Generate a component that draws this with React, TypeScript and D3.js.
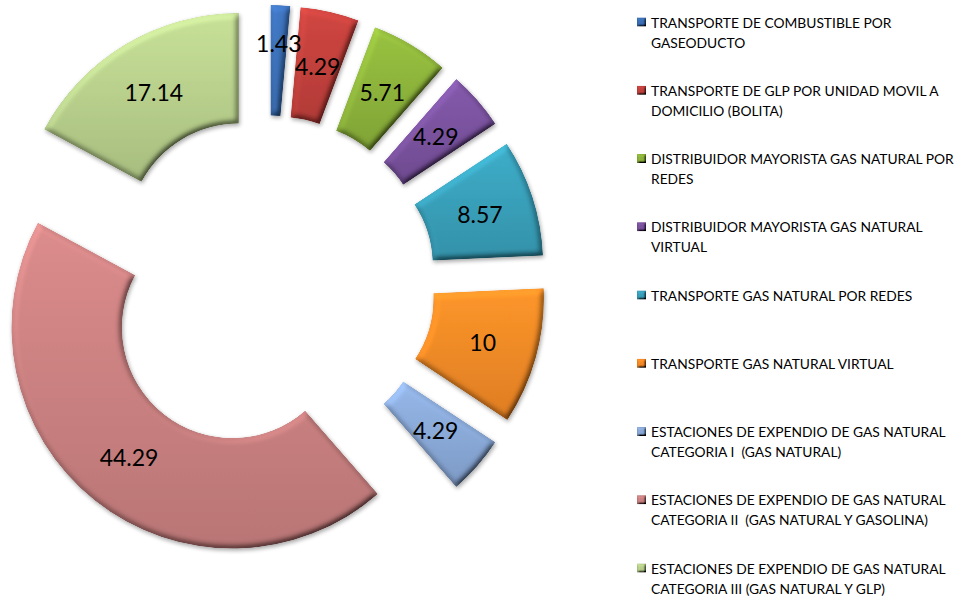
import React from "react";
import * as d3 from "d3";

const categories: string[] = [
  "TRANSPORTE DE COMBUSTIBLE POR\nGASEODUCTO",
  "TRANSPORTE DE GLP POR UNIDAD MOVIL A\nDOMICILIO (BOLITA)",
  "DISTRIBUIDOR MAYORISTA GAS NATURAL POR\nREDES",
  "DISTRIBUIDOR MAYORISTA GAS NATURAL\nVIRTUAL",
  "TRANSPORTE GAS NATURAL POR REDES",
  "TRANSPORTE GAS NATURAL VIRTUAL",
  "ESTACIONES DE EXPENDIO DE GAS NATURAL\nCATEGORIA I  (GAS NATURAL)",
  "ESTACIONES DE EXPENDIO DE GAS NATURAL\nCATEGORIA II  (GAS NATURAL Y GASOLINA)",
  "ESTACIONES DE EXPENDIO DE GAS NATURAL\nCATEGORIA III (GAS NATURAL Y GLP)",
];
const values: number[] = [1.43, 4.29, 5.71, 4.29, 8.57, 10, 4.29, 44.29, 17.14];
const labels: string[] = ["1.43", "4.29", "5.71", "4.29", "8.57", "10", "4.29", "44.29", "17.14"];
const colors: string[] = [
  "#3b6fb6",
  "#c2413c",
  "#8db33b",
  "#7a529e",
  "#39a0ba",
  "#f58a26",
  "#8aa9d8",
  "#cb8181",
  "#b8d08c",
];

const W = 957;
const H = 597;
const CX = 268;
const CY = 283;
const RO = 221;
const RI = 110.5;
const EXPLODE = 57;

export default function App() {
  const pie = d3
    .pie<number>()
    .sort(null)
    .value((d) => d)
    .startAngle(0)
    .endAngle(2 * Math.PI);
  const arcs = pie(values);
  const arc = d3.arc<d3.PieArcDatum<number>>().innerRadius(RI).outerRadius(RO);
  const total = d3.sum(values);

  const legendY = d3.scaleLinear().domain([0, categories.length - 1]).range([22, 568]);

  return (
    <svg
      width={W}
      height={H}
      style={{ position: "absolute", left: 0, top: 0, background: "#fff" }}
    >
      <defs>
        <filter id="bevel" x="-15%" y="-15%" width="130%" height="130%">
          <feGaussianBlur in="SourceAlpha" stdDeviation="3" result="blur" />
          <feDiffuseLighting in="blur" surfaceScale="4.5" diffuseConstant="1" lightingColor="#ffffff" result="light">
            <feDistantLight azimuth="235" elevation="55" />
          </feDiffuseLighting>
          <feComposite in="SourceGraphic" in2="light" operator="arithmetic" k1="1.2" k2="0" k3="0" k4="0" result="lit" />
          <feComposite in="lit" in2="SourceAlpha" operator="in" result="litIn" />
          <feGaussianBlur in="SourceAlpha" stdDeviation="2" result="sb" />
          <feOffset in="sb" dx="1" dy="2" result="so" />
          <feComponentTransfer in="so" result="shadow">
            <feFuncA type="linear" slope="0.35" />
          </feComponentTransfer>
          <feMerge>
            <feMergeNode in="shadow" />
            <feMergeNode in="litIn" />
          </feMerge>
        </filter>
        <filter id="bevelSmall" x="-30%" y="-30%" width="160%" height="160%">
          <feGaussianBlur in="SourceAlpha" stdDeviation="1" result="blur" />
          <feDiffuseLighting in="blur" surfaceScale="3" diffuseConstant="1" lightingColor="#ffffff" result="light">
            <feDistantLight azimuth="235" elevation="55" />
          </feDiffuseLighting>
          <feComposite in="SourceGraphic" in2="light" operator="arithmetic" k1="1.2" k2="0" k3="0" k4="0" result="lit" />
          <feComposite in="lit" in2="SourceAlpha" operator="in" />
        </filter>
        {colors.map((c, i) => {
          const base = d3.color(c)!;
          return (
            <linearGradient key={i} id={`g${i}`} x1="0" y1="0" x2="0" y2="1">
              <stop offset="0" stopColor={base.brighter(0.25).formatHex()} />
              <stop offset="1" stopColor={base.darker(0.25).formatHex()} />
            </linearGradient>
          );
        })}
      </defs>

      <g transform={`translate(${CX},${CY})`}>
        {arcs.map((a, i) => {
          const mid = (a.startAngle + a.endAngle) / 2;
          const dx = EXPLODE * Math.sin(mid);
          const dy = -EXPLODE * Math.cos(mid);
          return (
            <g key={i} transform={`translate(${dx},${dy})`}>
              <path d={arc(a) || ""} fill={`url(#g${i})`} filter="url(#bevel)" />
            </g>
          );
        })}
        {arcs.map((a, i) => {
          const mid = (a.startAngle + a.endAngle) / 2;
          const dx = EXPLODE * Math.sin(mid);
          const dy = -EXPLODE * Math.cos(mid);
          const narrow = a.value / total < 0.02;
          const r = (RI + RO) / 2 + (narrow ? 18 : 0);
          const lx = dx + r * Math.sin(mid);
          const ly = dy - r * Math.cos(mid);
          return (
            <text
              key={i}
              x={lx}
              y={ly}
              textAnchor="middle"
              dominantBaseline="central"
              fontFamily="Lato, 'Open Sans', sans-serif"
              fontSize={23}
              fill="#000"
            >
              {labels[i]}
            </text>
          );
        })}
      </g>

      <g>
        {categories.map((c, i) => {
          const y = legendY(i);
          const lines = c.split("\n");
          return (
            <g key={i}>
              <rect x={637} y={y - 4.5} width={9} height={9} fill={colors[i]} filter="url(#bevelSmall)" />
              <text
                x={651}
                y={y}
                fontFamily="Lato, 'Open Sans', sans-serif"
                fontSize={13.8}
                fill="#000"
                style={{ whiteSpace: "pre" }}
              >
                {lines.map((l, j) => (
                  <tspan key={j} x={651} y={y + j * 20} dominantBaseline="central">
                    {l}
                  </tspan>
                ))}
              </text>
            </g>
          );
        })}
      </g>
    </svg>
  );
}
